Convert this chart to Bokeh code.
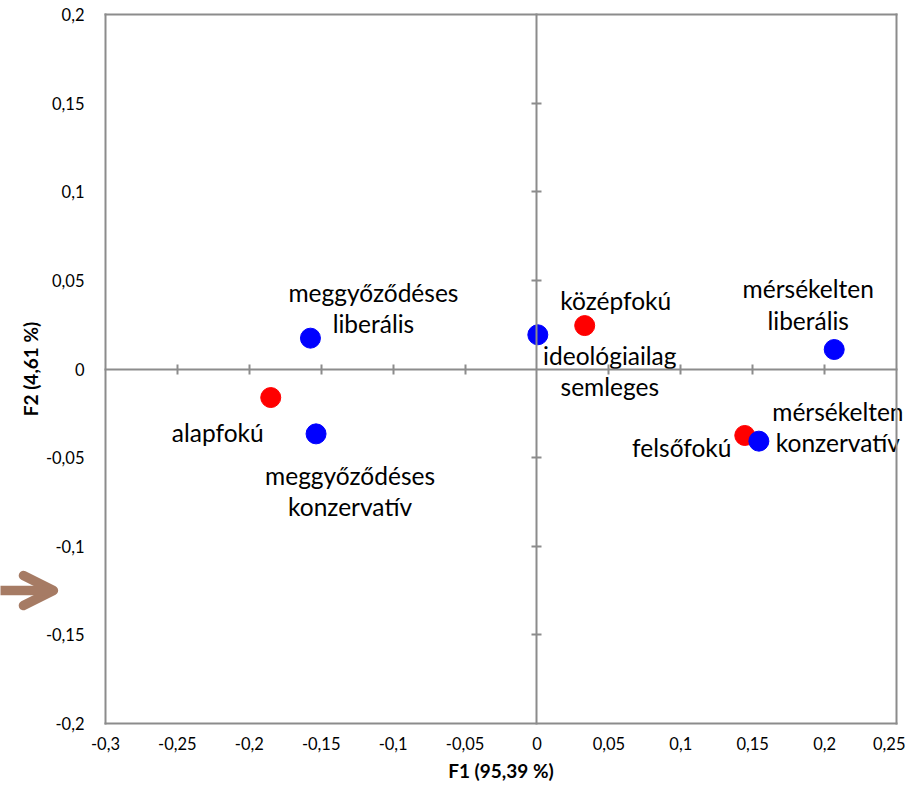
from bokeh.plotting import figure
from bokeh.models import (ColumnDataSource, FixedTicker, CustomJSTickFormatter,
                          LinearAxis, Arrow, OpenHead)
from bokeh.core.properties import value
from bokeh.embed import file_html
from bokeh.resources import INLINE

# ---- data ----
names = ["meggyőződéses\nliberális", "ideológiailag\nsemleges", "középfokú",
         "mérsékelten\nliberális", "alapfokú", "meggyőződéses\nkonzervatív",
         "felsőfokú", "mérsékelten\nkonzervatív"]
f1 = [-0.1575, 0.0006, 0.0332, 0.2067, -0.1851, -0.1536, 0.1445, 0.1543]
f2 = [0.0174, 0.0193, 0.0245, 0.0110, -0.0161, -0.0366, -0.0375, -0.0407]
group = ["ideology", "ideology", "education", "ideology", "education", "ideology",
         "education", "ideology"]
x_ticks = [-0.3, -0.25, -0.2, -0.15, -0.1, -0.05, 0, 0.05, 0.1, 0.15, 0.2, 0.25]
y_ticks = [-0.2, -0.15, -0.1, -0.05, 0, 0.05, 0.1, 0.15, 0.2]
x_title = "F1 (95,39 %)"
y_title = "F2 (4,61 %)"
arrow_y = -0.125
arrow_tip_x = -0.3362

# ---- layout / styling ----
X_MIN, X_MAX = x_ticks[0], x_ticks[-1]
Y_MIN, Y_MAX = y_ticks[0], y_ticks[-1]
W, H = 905, 785
BOX_L, BOX_R, BOX_T, BOX_B = 105, 896, 14, 723      # plot box in pixels
xpp = (X_MAX - X_MIN) / (BOX_R - BOX_L)
ypp = (Y_MAX - Y_MIN) / (BOX_B - BOX_T)
x_range = (X_MIN - BOX_L * xpp, X_MAX + (W - BOX_R) * xpp)
y_range = (Y_MIN - (H - BOX_B) * ypp, Y_MAX + BOX_T * ypp)

label_dx = [63, 72, 31, -26, -53, 34, -63, 79]
label_dy = [-30, 36, -25, -45, 35, 57, 12, -14]
group_color = {"ideology": "#0000FF", "education": "#FF0000"}
GRAY = "#8C8C8C"
FONT = "Lato"
ARROW_COLOR = "#A67B64"

colors = [group_color[g] for g in group]
src = ColumnDataSource(dict(x=f1, y=f2, name=names, color=colors,
                            dx=label_dx, dy=label_dy))

p = figure(width=W, height=H, x_range=x_range, y_range=y_range,
           output_backend="svg", toolbar_location=None,
           x_axis_location=None, y_axis_location=None,
           min_border_left=0, min_border_right=0, min_border_top=0, min_border_bottom=0)
p.grid.visible = False
p.outline_line_color = None
p.background_fill_color = "white"
p.border_fill_color = "white"

label_fmt = CustomJSTickFormatter(code="return tick.toString().replace('.', ',');")


def box_axis(side, loc, bounds, ticks=None, labels=False, tick_len=0):
    ax = LinearAxis(fixed_location=loc, bounds=bounds)
    ax.ticker = FixedTicker(ticks=ticks or [])
    ax.axis_line_color = GRAY
    ax.axis_line_width = 2
    ax.axis_line_cap = "square"
    ax.minor_tick_line_color = None
    ax.major_tick_in = tick_len
    ax.major_tick_out = tick_len
    ax.major_tick_line_color = GRAY if tick_len else None
    ax.major_tick_line_width = 2
    if labels:
        ax.formatter = label_fmt
        ax.major_label_text_font = FONT
        ax.major_label_text_font_size = "16.5px"
        ax.major_label_text_color = "black"
        ax.axis_label_text_font = FONT
        ax.axis_label_text_font_style = "bold"
        ax.axis_label_text_font_size = "19px"
        ax.axis_label_text_color = "black"
    else:
        ax.formatter = CustomJSTickFormatter(code="return '';")
        ax.major_label_text_font_size = "0px"
    p.add_layout(ax, side)
    return ax


# outer box (left & bottom carry the tick labels)
yax = box_axis("left", X_MIN, (Y_MIN, Y_MAX), y_ticks, labels=True)
yax.axis_label = y_title
yax.major_label_standoff = 21
yax.axis_label_standoff = 1
xax = box_axis("below", Y_MIN, (X_MIN, X_MAX), x_ticks, labels=True)
xax.axis_label = x_title
xax.major_label_standoff = 13
xax.axis_label_standoff = 6
box_axis("right", X_MAX, (Y_MIN, Y_MAX))
box_axis("above", Y_MAX, (X_MIN, X_MAX))

# axes crossing at zero, with ticks on both sides
box_axis("below", 0, (X_MIN, X_MAX), [t for t in x_ticks[1:-1] if t != 0], tick_len=5)
box_axis("left", 0, (Y_MIN, Y_MAX), [t for t in y_ticks[1:-1] if t != 0], tick_len=5)

# points
p.scatter("x", "y", source=src, size=20, fill_color="color", line_color="color")

# labels
p.text("x", "y", text="name", source=src, x_offset="dx", y_offset="dy",
       text_align="center", text_baseline="middle", text_font=value(FONT),
       text_font_size="24.5px", text_line_height=1.07, text_color="black")

# arrow in the left margin
p.add_layout(Arrow(x_start=x_range[0] - 0.01, y_start=arrow_y, x_end=arrow_tip_x, y_end=arrow_y,
                   line_color=ARROW_COLOR, line_width=9.5,
                   end=OpenHead(size=30, line_color=ARROW_COLOR, line_width=9.5,
                                line_cap="round", line_join="round")))

open("out.html", "w").write(file_html(p, INLINE))
